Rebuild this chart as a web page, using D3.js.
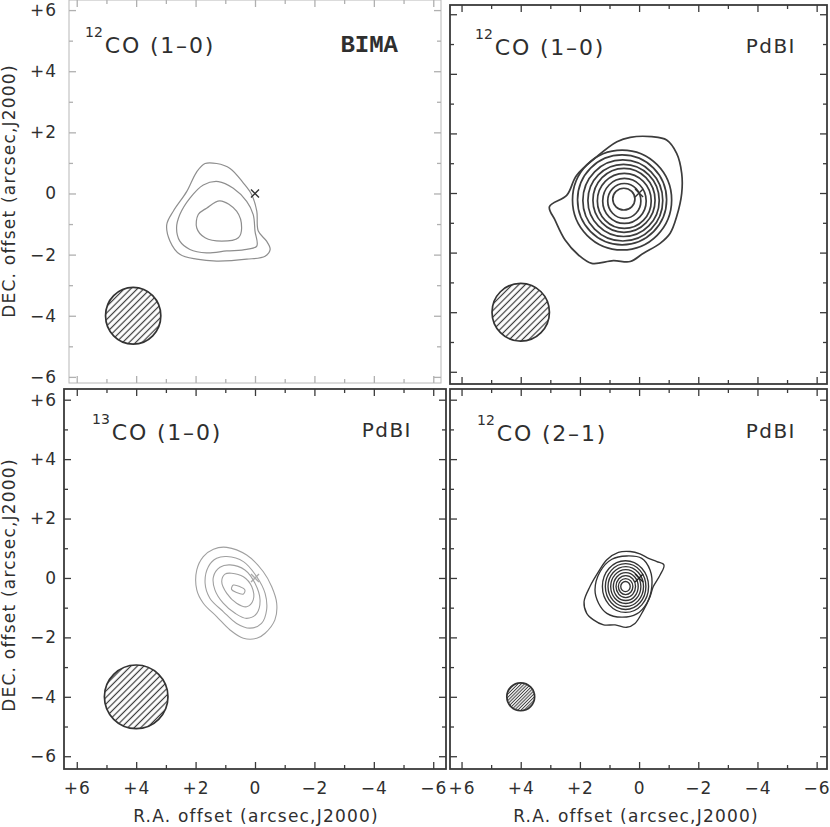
<!DOCTYPE html>
<html>
<head>
<meta charset="utf-8">
<script src="https://cdn.jsdelivr.net/npm/d3@7"></script>
<style>
  body { margin: 0; background: #fff; }
  svg { display: block; }
</style>
</head>
<body>
<div id="chart"></div>
<script>
// ---- values (offsets in arcsec, RA grows to the left) ----
const isotopes    = ["12", "12", "13", "12"];
const transitions = ["CO (1\u20130)", "CO (1\u20130)", "CO (1\u20130)", "CO (2\u20131)"];
const instruments = ["BIMA", "PdBI", "PdBI", "PdBI"];

const majorTicks = [6, 4, 2, 0, -2, -4, -6];
const minorTicks = [5, 3, 1, -1, -3, -5];

const crossAt     = [0, 0];
const beamCenters = [[4.1, -4.0], [4.0, -4.0], [4.0, -4.0], [4.0, -4.0]];
const beamRadius  = [0.93, 0.97, 1.07, 0.47];

// traced contour polygons [ra, dec]
const bima12co10 = [
  [[1.68,0.98],[1.29,0.98],[0.84,0.82],[0.39,0.34],[0.11,-0.04],[-0.06,-0.58],[-0.11,-1.23],[-0.39,-1.56],[-0.51,-1.83],[-0.34,-2.05],[0.28,-2.15],[1.29,-2.21],[1.96,-2.15],[2.53,-1.99],[2.86,-1.56],[2.97,-1.02],[2.75,-0.58],[2.30,0.06],[1.96,0.71]],
  [[1.74,0.28],[1.23,0.39],[0.73,0.17],[0.28,-0.26],[0.06,-0.69],[0.00,-1.23],[-0.06,-1.72],[0.28,-1.83],[0.95,-1.88],[1.63,-1.94],[2.19,-1.83],[2.53,-1.56],[2.64,-1.13],[2.53,-0.69],[2.19,-0.15]],
  [[1.63,-0.48],[1.18,-0.24],[0.62,-0.58],[0.45,-1.13],[0.56,-1.45],[1.12,-1.56],[1.68,-1.45],[1.96,-1.13],[1.91,-0.69]]
];
const pdbi12co10Outer = [
  [[3.03,-0.46],[2.44,-0.07],[2.12,0.58],[1.43,1.22],[0.75,1.72],[0.30,1.87],[-0.43,1.89],[-0.93,1.78],[-1.27,1.33],[-1.44,0.66],[-1.44,-0.01],[-1.27,-0.79],[-1.05,-1.35],[-0.71,-1.69],[-0.15,-2.02],[0.30,-2.30],[0.87,-2.27],[1.60,-2.36],[2.05,-2.08],[2.50,-1.58],[2.84,-0.91]]
];
// inner rings as extents [east, west, north, south]
const pdbi12co10Rings = [
  [2.25,-1.10,1.44,-1.91],
  [2.08,-0.93,1.28,-1.74],
  [1.90,-0.80,1.11,-1.61],
  [1.73,-0.68,0.96,-1.46],
  [1.56,-0.54,0.83,-1.32],
  [1.41,-0.41,0.66,-1.19],
  [1.23,-0.24,0.49,-1.02],
  [1.06,-0.06,0.32,-0.85],
  [0.89,0.14,0.16,-0.57]
];
const pdbi13co10 = [
  [[0.95,1.03],[0.28,0.77],[-0.28,0.21],[-0.56,-0.29],[-0.73,-0.85],[-0.67,-1.41],[-0.34,-1.86],[-0.06,-2.03],[0.39,-2.03],[0.84,-1.75],[1.29,-1.30],[1.74,-0.85],[1.96,-0.40],[1.96,0.27],[1.74,0.72],[1.40,0.97]],
  [[0.95,0.72],[0.39,0.55],[-0.06,0.04],[-0.34,-0.52],[-0.39,-1.08],[-0.22,-1.53],[0.17,-1.69],[0.62,-1.53],[1.07,-1.13],[1.52,-0.68],[1.68,-0.18],[1.57,0.38],[1.29,0.66]],
  [[0.84,0.44],[0.34,0.27],[0.00,-0.18],[-0.17,-0.74],[-0.06,-1.19],[0.28,-1.36],[0.67,-1.19],[1.07,-0.85],[1.35,-0.40],[1.40,0.04],[1.18,0.36]],
  [[0.79,0.16],[0.39,0.04],[0.11,-0.29],[0.06,-0.74],[0.28,-0.97],[0.62,-0.85],[0.95,-0.52],[1.12,-0.12],[1.01,0.13]],
  [[0.73,-0.24],[0.51,-0.29],[0.34,-0.40],[0.39,-0.54],[0.62,-0.49],[0.79,-0.38]]
];
const pdbi12co21Outer = [
  [[1.86,-0.80],[1.66,-0.29],[1.37,0.21],[1.09,0.61],[0.70,0.86],[0.30,0.89],[-0.03,0.81],[-0.32,0.66],[-0.60,0.55],[-0.84,0.44],[-0.71,0.10],[-0.48,-0.29],[-0.37,-0.63],[-0.15,-1.08],[0.14,-1.53],[0.42,-1.66],[0.81,-1.58],[1.20,-1.58],[1.54,-1.41],[1.77,-1.19]],
  [[1.49,-0.40],[1.32,0.21],[0.92,0.63],[0.42,0.74],[-0.09,0.66],[-0.37,0.27],[-0.43,-0.29],[-0.26,-0.85],[0.08,-1.21],[0.59,-1.32],[1.09,-1.19],[1.37,-0.85]]
];
const pdbi12co21Rings = [
  [1.24,-0.32,0.58,-1.16],
  [1.14,-0.23,0.48,-1.06],
  [1.05,-0.15,0.38,-0.96],
  [0.96,-0.06,0.28,-0.86],
  [0.87,0.03,0.18,-0.76],
  [0.78,0.12,0.08,-0.66],
  [0.70,0.21,-0.02,-0.56],
  [0.62,0.30,-0.12,-0.46]
];

const contourPolys = [bima12co10, pdbi12co10Outer, pdbi13co10, pdbi12co21Outer];
const contourRings = [[], pdbi12co10Rings, [], pdbi12co21Rings];

// ---- layout / styling (pixel boxes of the four frames) ----
const layout = [
  {box:[69,0,441,383],   xDomain:[6.26,-6.26], yDomain:[-6.2,6.33],  frame:"#b8b8b8", frameW:1,   tick:"#b0b0b0",
   line:"#8e8e8e", lineW:1.2, cross:"#333", yLabels:true,  xLabels:false, titleX:85,  titleY:53,  instX:398, instY:52, hatch:"hatch", bima:true},
  {box:[450,5,827,384],  xDomain:[6.39,-6.35], yDomain:[-6.41,6.31], frame:"#3a3a3a", frameW:1.8, tick:"#3a3a3a",
   line:"#3c3c3c", lineW:1.7, cross:"#333", yLabels:false, xLabels:false, titleX:475, titleY:55,  instX:796, instY:53, hatch:"hatch"},
  {box:[64,389,446,769], xDomain:[6.43,-6.43], yDomain:[-6.43,6.36], frame:"#3a3a3a", frameW:1.8, tick:"#3a3a3a",
   line:"#a0a0a0", lineW:1.1, cross:"#aaa", yLabels:true,  xLabels:true,  titleX:92,  titleY:440, instX:412, instY:437, hatch:"hatch"},
  {box:[450,389,827,769],xDomain:[6.39,-6.35], yDomain:[-6.43,6.36], frame:"#3a3a3a", frameW:1.8, tick:"#3a3a3a",
   line:"#343434", lineW:1.35, cross:"#222", yLabels:false, xLabels:true,  titleX:477, titleY:441, instX:796, instY:438, hatch:"hatchFine"}
];

const W = 830, H = 827;
const textColor = "#2f2f2f";
const sans = "'DejaVu Sans', Helvetica, Arial, sans-serif";

const svg = d3.select("#chart").append("svg")
  .attr("width", W)
  .attr("height", H);

const defs = svg.append("defs");
[["hatch", 4.6, 1.2], ["hatchFine", 2.3, 1.0]].forEach(function(h) {
  const p = defs.append("pattern")
    .attr("id", h[0])
    .attr("patternUnits", "userSpaceOnUse")
    .attr("width", h[1]).attr("height", h[1])
    .attr("patternTransform", "rotate(-45)");
  p.append("rect").attr("width", h[1]).attr("height", h[1]).attr("fill", "#fff");
  p.append("line")
    .attr("x1", 0).attr("x2", h[1])
    .attr("y1", h[1] / 2).attr("y2", h[1] / 2)
    .attr("stroke", "#3a3a3a").attr("stroke-width", h[2]);
});

const fmt = function(v) { return v > 0 ? "+" + v : v < 0 ? "\u2212" + (-v) : "0"; };

layout.forEach(function(L, i) {
  const x = d3.scaleLinear().domain(L.xDomain).range([L.box[0], L.box[2]]);
  const y = d3.scaleLinear().domain(L.yDomain).range([L.box[3], L.box[1]]);
  const g = svg.append("g").attr("class", "panel");

  // frame
  g.append("rect")
    .attr("x", L.box[0]).attr("y", L.box[1])
    .attr("width", L.box[2] - L.box[0]).attr("height", L.box[3] - L.box[1])
    .attr("fill", "none").attr("stroke", L.frame).attr("stroke-width", L.frameW);

  // inward ticks on all four sides
  const sides = [
    {gen: d3.axisBottom, s: x, t: "translate(0," + L.box[3] + ")", lab: L.xLabels, pad: 13},
    {gen: d3.axisTop,    s: x, t: "translate(0," + L.box[1] + ")", lab: false, pad: 3},
    {gen: d3.axisLeft,   s: y, t: "translate(" + L.box[0] + ",0)", lab: L.yLabels, pad: L.box[0] - 57},
    {gen: d3.axisRight,  s: y, t: "translate(" + L.box[2] + ",0)", lab: false, pad: 3}
  ];
  sides.forEach(function(sd) {
    const major = g.append("g")
      .attr("transform", sd.t)
      .attr("color", L.tick)
      .call(sd.gen(sd.s).tickValues(majorTicks).tickSize(-7).tickPadding(sd.pad)
        .tickFormat(sd.lab ? fmt : function() { return ""; }));
    const minor = g.append("g")
      .attr("transform", sd.t)
      .attr("color", L.tick)
      .call(sd.gen(sd.s).tickValues(minorTicks).tickSize(-4).tickFormat(function() { return ""; }));
    [major, minor].forEach(function(a) {
      a.select(".domain").remove();
      a.selectAll(".tick line").attr("stroke-width", 1.3);
    });
    major.selectAll("text")
      .attr("fill", textColor)
      .attr("font-family", sans)
      .attr("font-size", 17)
      .attr("letter-spacing", 1);
  });

  // contours
  const line = d3.line()
    .x(function(d) { return x(d[0]); })
    .y(function(d) { return y(d[1]); })
    .curve(d3.curveCatmullRomClosed.alpha(0.5));

  g.selectAll("path.contour")
    .data(contourPolys[i])
    .join("path")
    .attr("class", "contour")
    .attr("d", line)
    .attr("fill", "none")
    .attr("stroke", L.line)
    .attr("stroke-width", L.lineW)
    .attr("stroke-linejoin", "round");

  g.selectAll("ellipse.ring")
    .data(contourRings[i])
    .join("ellipse")
    .attr("class", "ring")
    .attr("cx", function(d) { return x((d[0] + d[1]) / 2); })
    .attr("cy", function(d) { return y((d[2] + d[3]) / 2); })
    .attr("rx", function(d) { return Math.abs(x(d[0]) - x(d[1])) / 2; })
    .attr("ry", function(d) { return Math.abs(y(d[2]) - y(d[3])) / 2; })
    .attr("fill", "none")
    .attr("stroke", L.line)
    .attr("stroke-width", L.lineW);

  // phase centre cross
  const cx = x(crossAt[0]), cy = y(crossAt[1]);
  g.append("path")
    .attr("d", "M" + (cx - 4) + "," + (cy - 4) + "L" + (cx + 4) + "," + (cy + 4) +
               "M" + (cx + 4) + "," + (cy - 4) + "L" + (cx - 4) + "," + (cy + 4))
    .attr("stroke", L.cross).attr("stroke-width", 1.4);

  // synthesized beam
  const bc = beamCenters[i], br = beamRadius[i];
  g.append("ellipse")
    .attr("cx", x(bc[0])).attr("cy", y(bc[1]))
    .attr("rx", Math.abs(x(br) - x(0)))
    .attr("ry", Math.abs(y(br) - y(0)))
    .attr("fill", "url(#" + L.hatch + ")")
    .attr("stroke", "#333").attr("stroke-width", 1.7);

  // molecule / transition label
  const t = g.append("text")
    .attr("x", L.titleX).attr("y", L.titleY)
    .attr("font-family", sans)
    .attr("fill", textColor);
  t.append("tspan").attr("font-size", 14).attr("dy", -16).text(isotopes[i]);
  t.append("tspan").attr("font-size", 22).attr("dy", 16).attr("dx", 2)
    .attr("letter-spacing", 1.8).text(transitions[i]);

  // instrument label
  g.append("text")
    .attr("x", L.instX).attr("y", L.instY)
    .attr("text-anchor", "end")
    .attr("font-family", L.bima ? "'Liberation Mono', 'Courier New', monospace" : sans)
    .attr("font-weight", L.bima ? "bold" : "normal")
    .attr("font-size", L.bima ? 24 : 20)
    .attr("letter-spacing", L.bima ? 0 : 1.5)
    .attr("fill", textColor)
    .text(instruments[i]);
});

// axis titles
const yTitle = "DEC. offset (arcsec,J2000)";
const xTitle = "R.A. offset (arcsec,J2000)";
[191, 585].forEach(function(cy) {
  svg.append("text")
    .attr("transform", "translate(15," + cy + ") rotate(-90)")
    .attr("text-anchor", "middle")
    .attr("font-family", sans).attr("font-size", 17).attr("letter-spacing", 1.2)
    .attr("fill", textColor)
    .text(yTitle);
});
[256, 636].forEach(function(cx) {
  svg.append("text")
    .attr("x", cx).attr("y", 822)
    .attr("text-anchor", "middle")
    .attr("font-family", sans).attr("font-size", 17).attr("letter-spacing", 1.2)
    .attr("fill", textColor)
    .text(xTitle);
});
</script>
</body>
</html>
